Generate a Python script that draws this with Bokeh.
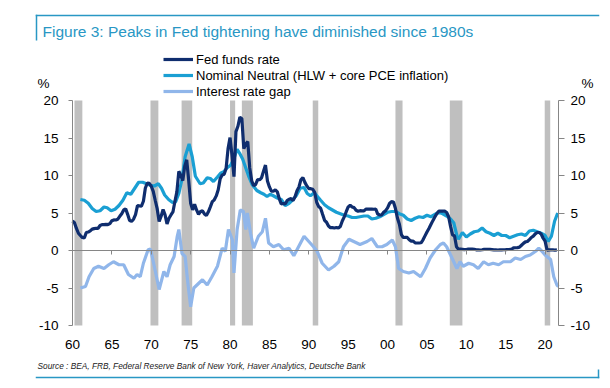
from bokeh.plotting import figure
from bokeh.models import (LinearAxis, FixedTicker, Range1d, Legend, LegendItem, Label,
                          BoxAnnotation)
from bokeh.embed import file_html
from bokeh.resources import INLINE

# ---------------- data ----------------
# Fed funds rate, quarterly averages from 1960 Q1
fed_funds_start = 1960.0
fed_funds = [
    3.93, 3.70, 2.94, 2.30,  2.00, 1.73, 1.68, 2.40,  2.46, 2.61, 2.85, 2.92,
    2.97, 2.96, 3.33, 3.45,  3.46, 3.49, 3.46, 3.58,  3.97, 4.08, 4.07, 4.17,
    4.56, 4.91, 5.41, 5.56,  4.82, 3.99, 3.89, 4.17,  4.79, 5.98, 5.94, 5.92,
    6.57, 8.33, 8.98, 8.94,  8.57, 7.88, 6.70, 5.57,  3.86, 4.56, 5.47, 4.75,
    3.54, 4.30, 4.74, 5.14,  6.54, 7.82, 10.56, 10.00, 9.32, 11.25, 12.09, 9.35,
    6.30, 5.42, 6.16, 5.41,  4.83, 5.20, 5.28, 4.87,  4.66, 5.16, 5.82, 6.51,
    6.76, 7.28, 8.10, 9.58,  10.07, 10.18, 10.94, 13.58, 15.05, 12.69, 9.84, 15.85,
    16.57, 17.78, 17.58, 13.59, 14.23, 14.51, 11.01, 9.29, 8.65, 8.80, 9.46, 9.43,
    9.69, 10.56, 11.39, 9.27, 8.48, 7.92, 7.90, 8.10,  7.83, 6.92, 6.21, 6.27,
    6.22, 6.65, 6.84, 6.92,  6.66, 7.16, 7.98, 8.47,  9.44, 9.73, 9.08, 8.61,
    8.25, 8.24, 8.16, 7.74,  6.43, 5.86, 5.64, 4.82,  4.02, 3.77, 3.26, 3.04,
    3.04, 3.00, 3.06, 2.99,  3.21, 3.94, 4.49, 5.17,  5.81, 6.02, 5.80, 5.72,
    5.36, 5.24, 5.31, 5.28,  5.28, 5.52, 5.53, 5.51,  5.52, 5.50, 5.53, 4.86,
    4.73, 4.75, 5.09, 5.31,  5.68, 6.27, 6.52, 6.47,  5.59, 4.33, 3.50, 2.13,
    1.73, 1.75, 1.74, 1.44,  1.25, 1.25, 1.02, 1.00,  1.00, 1.03, 1.43, 1.95,
    2.47, 2.94, 3.46, 3.98,  4.46, 4.91, 5.25, 5.25,  5.26, 5.25, 5.07, 4.50,
    3.18, 2.09, 1.94, 0.51,  0.18, 0.18, 0.16, 0.12,  0.13, 0.19, 0.19, 0.19,
    0.16, 0.09, 0.08, 0.07,  0.10, 0.15, 0.14, 0.16,  0.14, 0.12, 0.08, 0.09,
    0.07, 0.09, 0.09, 0.10,  0.11, 0.13, 0.14, 0.16,  0.36, 0.37, 0.39, 0.45,
    0.70, 0.95, 1.15, 1.20,  1.45, 1.74, 1.92, 2.22,  2.40, 2.40, 2.19, 1.64,
    1.26, 0.06, 0.09, 0.09,  0.08, 0.06, 0.09,
]

neutral_years = [
    1961.0, 1961.5, 1962.0, 1962.5, 1963.0, 1963.5, 1964.0, 1964.4, 1964.9, 1965.4,
    1965.9, 1966.4, 1966.9, 1967.4, 1967.9, 1968.4, 1968.9, 1969.4, 1969.9, 1970.4,
    1970.9, 1971.3, 1971.7, 1972.2, 1972.7, 1973.1, 1973.5, 1973.9, 1974.3, 1974.8,
    1975.2, 1975.6, 1976.2, 1976.6, 1977.1, 1977.5, 1977.9, 1978.4, 1978.8, 1979.2,
    1979.6, 1980.1, 1980.5, 1980.9, 1981.2, 1981.6, 1982.0, 1982.4, 1982.8, 1983.4,
    1983.9, 1984.3, 1984.7, 1985.1, 1985.5, 1986.0, 1986.5, 1987.0, 1987.5, 1987.9,
    1988.4, 1988.9, 1989.4, 1989.8, 1990.2, 1990.7, 1991.1, 1991.5, 1992.0, 1992.5,
    1993.0, 1993.5, 1994.0, 1994.5, 1995.0, 1995.5, 1996.0, 1996.5, 1997.0, 1997.5,
    1998.0, 1998.5, 1999.0, 1999.5, 2000.0, 2000.5, 2001.0, 2001.5, 2002.0, 2002.5,
    2003.0, 2003.5, 2004.0, 2004.5, 2005.0, 2005.5, 2006.0, 2006.5, 2007.0, 2007.5,
    2008.0, 2008.4, 2008.8, 2009.0, 2009.5, 2010.0, 2010.5, 2011.0, 2011.5, 2012.0,
    2012.5, 2013.0, 2013.5, 2014.0, 2014.5, 2015.0, 2015.5, 2016.0, 2016.5, 2017.0,
    2017.5, 2018.0, 2018.5, 2019.0, 2019.5, 2020.0, 2020.4, 2020.8, 2021.2, 2021.6,
]
neutral_values = [
    6.8, 6.7, 6.3, 5.6, 5.2, 5.3, 5.8, 5.7, 5.3, 5.5,
    6.0, 6.7, 7.7, 7.5, 8.3, 9.1, 9.1, 8.9, 8.7, 8.6,
    8.9, 8.3, 7.4, 6.8, 6.4, 6.5, 7.6, 9.5, 12.5, 14.2,
    12.5, 9.9, 8.9, 9.0, 9.7, 9.6, 9.2, 9.8, 10.3, 10.5,
    11.0, 11.4, 12.3, 13.5, 13.0, 12.2, 11.0, 9.8, 8.8, 8.0,
    7.7, 7.5, 7.2, 7.5, 7.3, 7.0, 6.8, 6.0, 6.3, 6.7,
    7.3, 8.3, 8.4, 7.6, 7.3, 7.7, 7.2, 6.7, 6.1, 5.7,
    5.4, 5.1, 4.9, 4.7, 4.6, 4.4, 4.4, 4.5, 4.6, 4.6,
    4.2, 4.3, 4.5, 4.8, 5.1, 5.2, 5.2, 4.9, 4.7, 4.2,
    4.0, 4.3, 4.5, 4.4, 4.7, 4.5, 4.8, 5.1, 4.9, 4.6,
    4.2, 3.7, 2.0, 1.5, 2.4, 1.8, 2.2, 2.5, 2.6, 3.0,
    2.5, 2.3, 2.0, 2.3, 2.0, 2.0, 1.7, 1.9, 2.1, 2.2,
    2.0, 2.6, 2.7, 2.5, 2.3, 2.0, 1.2, 1.9, 3.9, 5.0,
]

gap_years = [
    1961.0, 1961.65, 1962.1, 1962.7, 1963.3, 1964.0, 1964.6, 1965.2, 1965.9, 1966.5,
    1967.1, 1967.8, 1968.2, 1968.6, 1969.0, 1969.6, 1969.9, 1970.3, 1971.0, 1971.6,
    1972.0, 1972.4, 1972.9, 1973.3, 1973.5, 1973.9, 1974.3, 1974.6, 1975.0, 1975.4,
    1975.8, 1976.5, 1977.1, 1977.7, 1978.4, 1979.0, 1979.4, 1979.8, 1980.3, 1980.5,
    1980.9, 1981.3, 1981.7, 1982.0, 1982.2, 1982.6, 1983.0, 1983.6, 1984.1, 1984.5,
    1984.9, 1985.5, 1986.2, 1986.8, 1987.5, 1988.1, 1988.7, 1989.4, 1990.0, 1990.6,
    1991.05, 1991.7, 1992.5, 1993.2, 1993.8, 1994.4, 1995.1, 1995.7, 1996.5, 1997.4,
    1998.0, 1998.7, 1999.3, 1999.9, 2000.6, 2001.0, 2001.4, 2002.0, 2002.7, 2003.3,
    2004.2, 2004.8, 2005.4, 2006.1, 2006.7, 2007.1, 2007.5, 2008.0, 2008.4, 2008.8,
    2009.2, 2009.6, 2010.3, 2010.9, 2011.5, 2012.2, 2012.8, 2013.4, 2014.1, 2014.7,
    2015.6, 2016.2, 2016.9, 2017.5, 2018.1, 2018.8, 2019.2, 2019.6, 2020.0, 2020.7,
    2021.1, 2021.5, 2021.7,
]
gap_values = [
    -5.0, -4.8, -3.5, -2.4, -2.1, -2.4, -1.9, -1.5, -1.9, -1.9,
    -3.2, -3.7, -3.2, -3.5, -1.7, 0.1, 0.2, -1.7, -5.2, -2.8,
    -3.5, -1.9, -0.8, 1.9, 2.8, -0.4, -0.8, -3.9, -7.5, -5.0,
    -4.6, -3.9, -4.6, -3.5, -2.1, 0.3, -0.1, 2.8, 1.4, -3.0,
    2.8, 5.4, 5.2, 2.8, 5.0, 2.3, 0.3, 1.9, 2.5, 4.3,
    1.0, 0.5, 0.8, 0.1, 0.3, -0.7, 0.5, 1.9, 1.2, 0.5,
    -0.1, -1.7, -2.6, -2.1, -1.5, 0.5, 1.5, 1.2, 0.8, 1.2,
    1.6, 0.5, 0.5, 0.8, 1.4, 0.5, -2.4, -2.8, -3.0, -2.8,
    -3.5, -2.4, -1.0, 0.1, 0.8, 1.0, 0.5, -0.6, -1.5, -2.4,
    -1.5, -2.1, -1.7, -1.9, -2.4, -1.5, -1.9, -1.7, -1.9, -1.5,
    -1.5, -1.0, -1.2, -0.8, -0.6, -0.1, 0.3, -0.1, -0.6, -1.2,
    -3.5, -4.6, -4.8,
]

# recessions (shaded)
rec_start = [1960.25, 1969.9, 1973.85, 1980.0, 1981.5, 1990.5, 2001.0, 2007.9, 2019.95]
rec_end = [1961.25, 1970.9, 1975.2, 1980.65, 1982.9, 1991.2, 2001.9, 2009.5, 2020.65]

x_ticks = [1960, 1965, 1970, 1975, 1980, 1985, 1990, 1995, 2000, 2005, 2010, 2015, 2020]
x_tick_labels = ["60", "65", "70", "75", "80", "85", "90", "95", "00", "05", "10", "15", "20"]
y_ticks = [-10, -5, 0, 5, 10, 15, 20]
y_tick_labels = ["-10", "-5", "0", "5", "10", "15", "20"]
Y_MIN, Y_MAX = -10, 20
X_MIN, X_MAX = 1960, 2021.7

title_text = "Figure 3: Peaks in Fed tightening have diminished since 1980s"
source_text = "Source : BEA, FRB, Federal Reserve Bank of New York, Haver Analytics, Deutsche Bank"
unit_text = "%"

fed_funds_x = [fed_funds_start + 0.25 * i for i in range(len(fed_funds))]

# ---------------- layout / styling ----------------
TEAL = "#2997c4"
C_FFR = "#0f2d6e"
C_NEU = "#1a9fd3"
C_GAP = "#90b6ea"
AXIS = "#868686"
FONT = "Liberation Sans"

W, H = 602, 382
PL, PT, PR, PB = 72, 100, 558, 325   # plot-area edges in canvas pixels

# the frame fills the whole canvas; the plot area is the [X_MIN,X_MAX]x[Y_MIN,Y_MAX] part
SX = (PR - PL) / (X_MAX - X_MIN)
SY = (PB - PT) / (Y_MAX - Y_MIN)
x_range = Range1d(X_MIN - PL / SX, X_MAX + (W - PR) / SX)
y_range = Range1d(Y_MIN - (H - PB) / SY, Y_MAX + PT / SY)


def px_x(px):
    return X_MIN + (px - PL) / SX


def px_y(py):
    return Y_MAX - (py - PT) / SY


p = figure(width=W, height=H, x_range=x_range, y_range=y_range,
           output_backend="svg", toolbar_location=None,
           x_axis_location=None, y_axis_location=None, min_border=0)
p.title.visible = False
p.outline_line_color = None
p.grid.visible = False
p.background_fill_color = "white"
p.border_fill_color = "white"

# recession bars
p.quad(left=rec_start, right=rec_end, bottom=Y_MIN, top=Y_MAX, fill_color="#bfbfbf",
       line_color=None)

r_gap = p.line(gap_years, gap_values, line_color=C_GAP, line_width=3.2)
r_neu = p.line(neutral_years, neutral_values, line_color=C_NEU, line_width=3.2)
r_ffr = p.line(fed_funds_x, fed_funds, line_color=C_FFR, line_width=3.2)

LABEL_STYLE = dict(major_label_text_font=FONT, major_label_text_font_size="13.5px",
                   major_label_text_color="#000000", minor_tick_line_color=None)
y_overrides = dict(zip(y_ticks, y_tick_labels))

# bottom tick labels (no line, no ticks) at the bottom of the plot area
xa = LinearAxis(fixed_location=Y_MIN, bounds=(X_MIN, X_MAX), ticker=FixedTicker(ticks=x_ticks),
                axis_line_color=None, major_tick_line_color=None, major_label_standoff=8,
                major_label_overrides=dict(zip(x_ticks, x_tick_labels)), **LABEL_STYLE)
p.add_layout(xa, "below")

# zero line with ticks
zx = LinearAxis(fixed_location=0, bounds=(X_MIN, X_MAX), ticker=FixedTicker(ticks=x_ticks),
                axis_line_color=AXIS, major_tick_line_color=AXIS, major_tick_out=4,
                major_tick_in=0, minor_tick_line_color=None, major_label_text_color=None,
                major_label_text_font_size="1px")
p.add_layout(zx, "below")

ya = LinearAxis(fixed_location=X_MIN, bounds=(Y_MIN, Y_MAX), ticker=FixedTicker(ticks=y_ticks),
                axis_line_color=AXIS, major_tick_line_color=AXIS, major_tick_out=4,
                major_tick_in=0, major_label_standoff=10, major_label_overrides=y_overrides,
                **LABEL_STYLE)
p.add_layout(ya, "left")

ry = LinearAxis(fixed_location=X_MAX, bounds=(Y_MIN, Y_MAX), ticker=FixedTicker(ticks=y_ticks),
                axis_line_color=AXIS, major_tick_line_color=AXIS, major_tick_out=6,
                major_tick_in=0, major_label_standoff=6, major_label_overrides=y_overrides,
                **LABEL_STYLE)
p.add_layout(ry, "right")

# legend (rows centred at ~59, 75, 91); location = bottom-left corner from frame bottom-left
legend = Legend(items=[LegendItem(label="Fed funds rate", renderers=[r_ffr]),
                       LegendItem(label="Nominal Neutral (HLW + core PCE inflation)", renderers=[r_neu]),
                       LegendItem(label="Interest rate gap", renderers=[r_gap])],
                location=(163, H - 99), orientation="vertical",
                glyph_width=30, glyph_height=16, label_height=16, label_standoff=3,
                padding=0, margin=0, spacing=0, border_line_color=None,
                background_fill_alpha=0, label_text_font=FONT,
                label_text_font_size="13px", label_text_color="#000000")
p.add_layout(legend)


def add_text(text, px, py, size, color="#000000", style="normal", align="left"):
    p.add_layout(Label(x=px_x(px), y=px_y(py), text=text, text_font=FONT,
                       text_font_size=size, text_color=color, text_font_style=style,
                       text_align=align, text_baseline="middle"))


add_text(title_text, 42, 31, "15.5px", TEAL)
add_text(unit_text, 43, 83, "13.5px", align="center")
add_text(unit_text, 587, 83, "13.5px", align="center")
add_text(source_text, 37, 365, "8.3px", "#222222", "italic")


def add_rule(x0, x1, y0, y1):
    p.add_layout(BoxAnnotation(left=px_x(x0), right=px_x(x1), top=px_y(y0), bottom=px_y(y1),
                               fill_color=TEAL, fill_alpha=1, line_color=None))


add_rule(35.25, 598.75, 14.25, 15.75)     # top rule
add_rule(35.25, 36.75, 14.25, 40)         # left tick next to title
add_rule(35.25, 598.75, 376.25, 377.75)   # bottom rule
add_rule(597.25, 598.75, 369, 377.75)     # right tick at bottom

open("out.html", "w").write(file_html(p, INLINE))
